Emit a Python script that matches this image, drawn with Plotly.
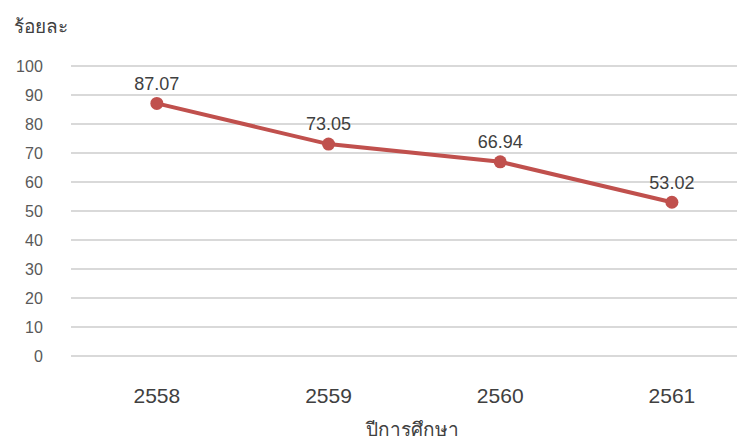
import plotly.graph_objects as go

years = ["2558", "2559", "2560", "2561"]
values = [87.07, 73.05, 66.94, 53.02]
labels = ["87.07", "73.05", "66.94", "53.02"]
y_ticks = [0, 10, 20, 30, 40, 50, 60, 70, 80, 90, 100]

font_family = "Liberation Sans, Arial, sans-serif"

# the page has an 8px body margin, so the figure is sized / offset accordingly
OFF = 8
W, H = 745 - OFF, 439 - OFF
PLOT_LEFT, PLOT_RIGHT, PLOT_TOP, PLOT_BOTTOM = 71, 744, 63, 359
L = PLOT_LEFT - OFF
R = 745 - PLOT_RIGHT
T = PLOT_TOP - OFF
B = 439 - PLOT_BOTTOM

fig = go.Figure()
fig.add_trace(go.Scatter(
    x=years, y=values, mode="lines+markers+text",
    text=labels, textposition="top center",
    textfont=dict(size=18, color="#404040", family=font_family),
    line=dict(color="#C0504D", width=4),
    marker=dict(color="#C0504D", size=13),
    cliponaxis=False, showlegend=False,
))

fig.update_layout(
    width=W, height=H,
    margin=dict(l=L, r=R, t=T, b=B),
    paper_bgcolor="white", plot_bgcolor="white",
    font=dict(family=font_family, color="#595959"),
    xaxis=dict(
        type="category", range=[-0.5, 3.42],
        showgrid=False, zeroline=False, showline=False,
        ticks="outside", ticklen=18, tickcolor="rgba(0,0,0,0)",
        tickfont=dict(size=21, color="#404040"),
    ),
    yaxis=dict(
        range=[-1, 101], tickvals=y_ticks,
        showgrid=True, gridcolor="#d9d9d9", gridwidth=1.5,
        zeroline=False, showline=False,
        ticks="outside", ticklen=24, tickcolor="rgba(0,0,0,0)",
        tickfont=dict(size=16, color="#595959"),
    ),
)

pw = PLOT_RIGHT - PLOT_LEFT
ph = PLOT_BOTTOM - PLOT_TOP


def px_to_paper(px, py):
    return (px - PLOT_LEFT) / pw, (PLOT_BOTTOM - py) / ph


ax, ay = px_to_paper(12, 27)
fig.add_annotation(text="ร้อยละ", xref="paper", yref="paper", x=ax, y=ay,
                   xanchor="left", yanchor="middle", showarrow=False,
                   font=dict(size=19, color="#404040"))
bx, by = px_to_paper(412, 429)
fig.add_annotation(text="ปีการศึกษา", xref="paper", yref="paper", x=bx, y=by,
                   xanchor="center", yanchor="middle", showarrow=False,
                   font=dict(size=19, color="#404040"))

fig.write_html("out.html")
